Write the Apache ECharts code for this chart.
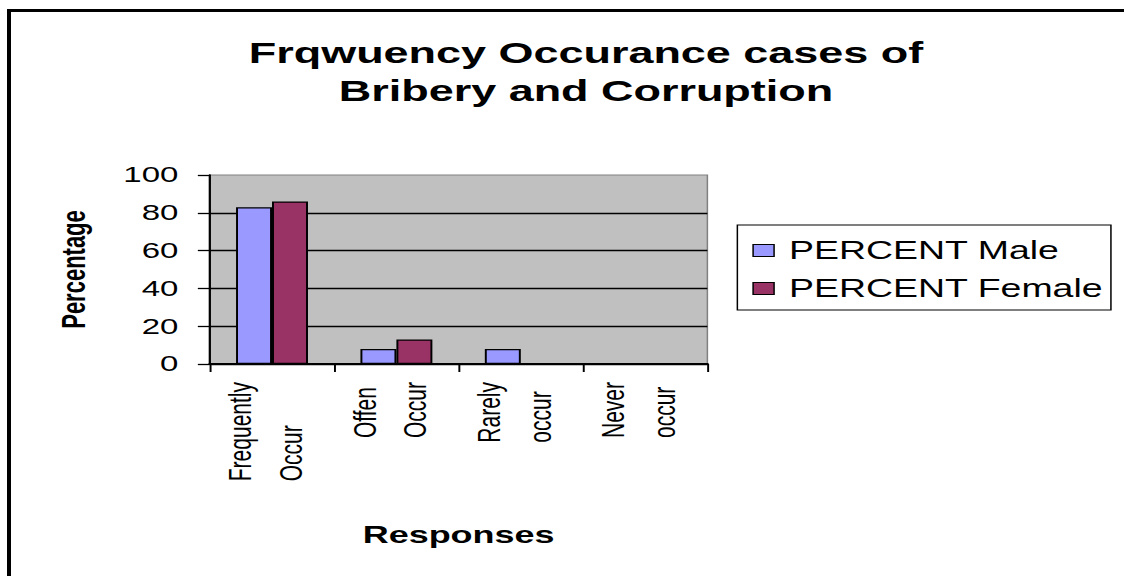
<!DOCTYPE html>
<html>
<head>
<meta charset="utf-8">
<script src="https://cdn.jsdelivr.net/npm/echarts@6/dist/echarts.min.js"></script>
<style>
	body { margin: 0; background: #fff; }
	#frame { position: absolute; left: 7px; top: 9px; width: 1117px; height: 567px; border-left: 4px solid #000; border-top: 3px solid #000; }
	#bar_chart { position: absolute; left: 0; top: 0; width: 750px; height: 576px; transform: scaleX(1.4987); transform-origin: 0 0; }
</style>
</head>
<body>
<div id="frame"></div>
<div id="bar_chart"></div>
<script>
var categories = ['Frequently\nOccur', 'Offen\nOccur', 'Rarely\noccur', 'Never\noccur'];
var maleValues = [83, 8, 8, 0];
var femaleValues = [86, 13, 0, 0];
var seriesNames = ['PERCENT Male', 'PERCENT Female'];

var font = 'Liberation Sans, Arial, sans-serif';

function bar_chart() {
	// the original picture is stretched sideways, so draw narrow and scale the div
	var chart = echarts.init(document.getElementById('bar_chart'), null, { renderer: 'svg' });
	chart.setOption({
		animation: false,
		textStyle: { fontFamily: font },
		title: {
			text: 'Frqwuency Occurance cases of\nBribery and Corruption',
			left: 391,
			top: 33,
			padding: 0,
			textAlign: 'center',
			textStyle: {
				fontSize: 30,
				fontWeight: 'bold',
				lineHeight: 38,
				color: '#000',
				fontFamily: font
			}
		},
		legend: {
			orient: 'vertical',
			left: 492,
			top: 225,
			padding: [13, 5, 9, 10],
			itemGap: 13,
			itemWidth: 14,
			itemHeight: 12,
			icon: 'rect',
			borderColor: '#000',
			borderWidth: 1,
			itemStyle: { borderColor: '#000', borderWidth: 1 },
			textStyle: {
				fontSize: 25,
				lineHeight: 25,
				color: '#000',
				padding: [0, 0, 0, 5],
				fontFamily: font
			},
			data: seriesNames
		},
		grid: {
			left: 140,
			top: 175,
			width: 332,
			height: 189,
			show: true,
			backgroundColor: '#C0C0C0',
			borderColor: '#808080',
			borderWidth: 1
		},
		xAxis: {
			type: 'category',
			data: categories,
			name: 'Responses',
			nameLocation: 'middle',
			nameGap: 158,
			nameTextStyle: { fontSize: 24, fontWeight: 'bold', color: '#000', fontFamily: font },
			axisLine: { lineStyle: { color: '#000', width: 2 } },
			axisTick: { show: true, length: 8, lineStyle: { color: '#000', width: 1.3 } },
			axisLabel: {
				rotate: 90,
				interval: 0,
				margin: 18,
				padding: [0, 0, 8, 0],
				formatter: function (value) {
					return value.split('\n').map(function (s) {
						return '{l|' + s + '}';
					}).join('\n');
				},
				rich: {
					l: { fontSize: 21, lineHeight: 34, color: '#000', align: 'left', fontFamily: font }
				}
			}
		},
		yAxis: {
			type: 'value',
			min: 0,
			max: 100,
			interval: 20,
			name: 'Percentage',
			nameLocation: 'middle',
			nameGap: 80,
			nameTextStyle: { fontSize: 22, fontWeight: 'bold', color: '#000', fontFamily: font },
			axisLine: { show: true, lineStyle: { color: '#000', width: 1.5 } },
			axisTick: { show: true, length: 8, lineStyle: { color: '#000', width: 1.3 } },
			axisLabel: { fontSize: 22, color: '#000', margin: 21, fontFamily: font },
			splitLine: {
				show: true,
				showMaxLine: false,
				lineStyle: { color: '#000', width: 1.3 }
			}
		},
		series: [{
			name: seriesNames[0],
			type: 'bar',
			barWidth: 24,
			barGap: '0%',
			itemStyle: { color: '#9999FF', borderColor: '#000', borderWidth: 1.3 },
			data: maleValues
		}, {
			name: seriesNames[1],
			type: 'bar',
			barWidth: 24,
			itemStyle: { color: '#993366', borderColor: '#000', borderWidth: 1.3 },
			data: femaleValues
		}]
	});
}

bar_chart();
</script>
</body>
</html>
